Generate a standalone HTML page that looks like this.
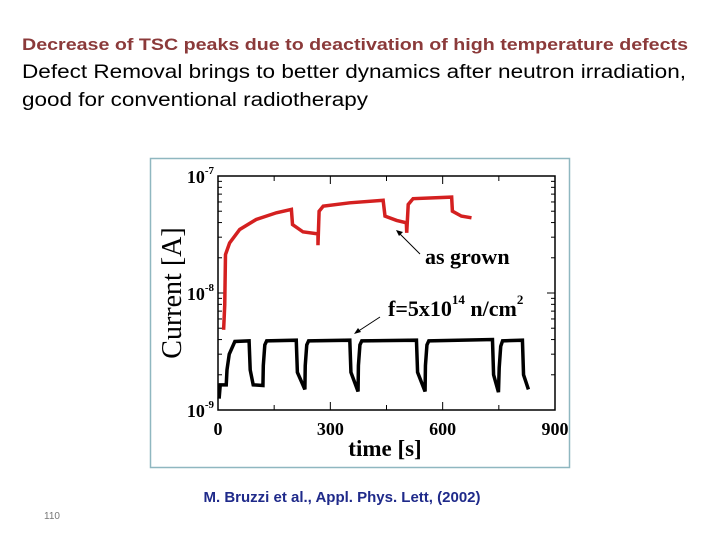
<!DOCTYPE html>
<html><head><meta charset="utf-8"><style>
html,body{margin:0;padding:0;background:#fff;}
svg{display:block;}
</style></head><body>
<svg id="chart" width="720" height="540" xmlns="http://www.w3.org/2000/svg" font-family="Liberation Sans, sans-serif">
<text x="22" y="50" font-size="17" font-weight="bold" fill="#8B3A3A" textLength="666" lengthAdjust="spacingAndGlyphs">Decrease of  TSC peaks due to deactivation of high temperature defects</text>
<text x="22" y="78" font-size="19" fill="#000" textLength="664" lengthAdjust="spacingAndGlyphs">Defect Removal brings to better dynamics after neutron irradiation,</text>
<text x="22" y="106" font-size="19" fill="#000" textLength="346" lengthAdjust="spacingAndGlyphs">good for conventional radiotherapy</text>
<rect x="150.5" y="158.5" width="419" height="309" fill="#fff" stroke="#8fb7c0" stroke-width="1.5"/>
<g id="plot"></g>
<text x="342" y="502" font-size="15" font-weight="bold" fill="#1f2a8a" text-anchor="middle">M. Bruzzi et al., Appl. Phys. Lett, (2002)</text>
<text x="52" y="519" font-size="10" fill="#777" text-anchor="middle">110</text>
</svg>
<script>
const xTicks = [0, 300, 600, 900];
const yTickExps = [-7, -8, -9];
const redT = [15,18,20,31,58,102,156,196,199,227,267,267,270,281,352,441,446,477,503,504,508,521,624,626,650,677];
const redI = [4.85e-9,7.9e-9,2.13e-8,2.68e-8,3.49e-8,4.25e-8,4.85e-8,5.18e-8,3.85e-8,3.33e-8,3.2e-8,2.56e-8,5.0e-8,5.53e-8,5.9e-8,6.2e-8,4.54e-8,4.17e-8,3.98e-8,3.27e-8,5.71e-8,6.4e-8,6.6e-8,5.0e-8,4.54e-8,4.39e-8];
const blkT = [3,6,22,24,30,45,83,86,94,120,121,125,130,209,212,232,233,237,242,352,355,374,375,379,384,530,533,553,554,558,563,733,736,749,751,755,760,813,816,829];
const blkI = [1.25e-9,1.64e-9,1.64e-9,2.2e-9,3.0e-9,3.85e-9,3.9e-9,2.2e-9,1.64e-9,1.62e-9,2.4e-9,3.6e-9,3.9e-9,3.95e-9,2.1e-9,1.5e-9,2.4e-9,3.6e-9,3.9e-9,3.95e-9,2.1e-9,1.44e-9,2.4e-9,3.6e-9,3.9e-9,3.95e-9,2.1e-9,1.44e-9,2.4e-9,3.6e-9,3.9e-9,4.0e-9,2.0e-9,1.42e-9,2.3e-9,3.5e-9,3.9e-9,3.95e-9,2.0e-9,1.5e-9];
const NS='http://www.w3.org/2000/svg';
const X0=218,X1=555,YT=176,YB=410;
const xs=t=>X0+(t/900)*(X1-X0);
const ys=v=>YT+(-7-Math.log10(v))/2*(YB-YT);
const g=document.getElementById('plot');
function mk(tag,attrs){const e=document.createElementNS(NS,tag);for(const k in attrs)e.setAttribute(k,attrs[k]);g.appendChild(e);return e;}
const frame=mk('rect',{x:X0,y:YT,width:X1-X0,height:YB-YT,fill:'none',stroke:'#000','stroke-width':1.5});


for(let t=0;t<=900;t+=150){const x=xs(t);const L=t%300===0?8:5;
mk('line',{x1:x,y1:YB,x2:x,y2:YB-L,stroke:'#000'});mk('line',{x1:x,y1:YT,x2:x,y2:YT+L,stroke:'#000'});}
xTicks.forEach(t=>{const e=mk('text',{x:xs(t),y:YB+25,'font-size':18,'font-weight':'bold','font-family':'Liberation Serif, serif','text-anchor':'middle'});e.textContent=t;

});
for(let d=-9;d<-7;d++){for(let m=1;m<10;m++){const v=m*Math.pow(10,d);const y=ys(v);const L=m===1?8:4;
mk('line',{x1:X0,y1:y,x2:X0+L,y2:y,stroke:'#000'});mk('line',{x1:X1,y1:y,x2:X1-L,y2:y,stroke:'#000'});}}
yTickExps.forEach(ex=>{const y=ys(Math.pow(10,ex));const e=mk('text',{x:X0-4,y:y+7,'font-size':18,'font-weight':'bold','font-family':'Liberation Serif, serif','text-anchor':'end'});
e.innerHTML='10<tspan dy="-9" font-size="11">'+ex+'</tspan>';

});
const yt=mk('text',{x:181,y:293,'font-size':28,'font-family':'Liberation Serif, serif','text-anchor':'middle',transform:'rotate(-90 181 293)'});yt.textContent='Current [A]';


const xt=mk('text',{x:385,y:456,'font-size':23,'font-weight':'bold','font-family':'Liberation Serif, serif','text-anchor':'middle'});xt.textContent='time [s]';


const red=mk('polyline',{points:redT.map((t,i)=>xs(t)+','+ys(redI[i])).join(' '),fill:'none',stroke:'#d42020','stroke-width':3.5});


const blk=mk('polyline',{points:blkT.map((t,i)=>xs(t)+','+ys(blkI[i])).join(' '),fill:'none',stroke:'#000','stroke-width':3.5});


const a1=mk('text',{x:425,y:264,'font-size':22,'font-weight':'bold','font-family':'Liberation Serif, serif'});a1.textContent='as grown';


mk('line',{x1:420,y1:254,x2:398,y2:232,stroke:'#000','stroke-width':1});
mk('path',{d:'M396,230 l7,2 l-4,4 z',fill:'#000'});
const a2=mk('text',{x:388,y:316,'font-size':22,'font-weight':'bold','font-family':'Liberation Serif, serif'});
a2.innerHTML='f=5x10<tspan dy="-12" font-size="13">14</tspan><tspan dy="12"> n/cm</tspan><tspan dy="-12" font-size="13">2</tspan>';


mk('line',{x1:380,y1:317,x2:357,y2:332,stroke:'#000','stroke-width':1});
mk('path',{d:'M354,334 l4,-6 l3,4 z',fill:'#000'});
</script>
</body></html>
